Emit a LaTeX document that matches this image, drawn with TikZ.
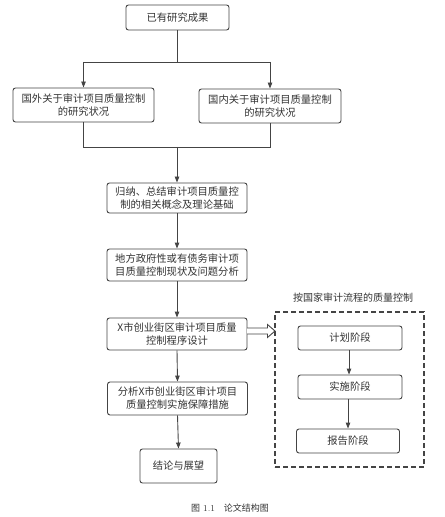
\documentclass[tikz,border=0pt]{standalone}
\usepackage{fontspec}
\newfontfamily\cjk{Noto Sans CJK SC}
\usetikzlibrary{arrows.meta}
\definecolor{lineC}{HTML}{444444}
\definecolor{txtC}{HTML}{333333}
\begin{document}
\begin{tikzpicture}[x=1bp,y=-1bp,
  box/.style={draw=lineC, line width=0.9bp, rounded corners=2.5bp, fill=white,
    inner sep=0pt, align=center, text=txtC,
    font=\cjk\fontsize{10.3bp}{13bp}\selectfont},
  conn/.style={draw=lineC, line width=0.9bp},
  arr/.style={conn, -{Triangle[length=6bp,width=4.5bp]}}
]
\useasboundingbox (0,0) rectangle (445,517);
\node[box, minimum width=103bp, minimum height=25bp] (top) at (177.5,17.5) {已有研究成果};
\node[box, minimum width=141bp, minimum height=34bp] (L) at (83.5,105) {国外关于审计项目质量控制\\的研究状况};
\node[box, minimum width=142bp, minimum height=34bp] (R) at (270,106) {国内关于审计项目质量控制\\的研究状况};
\node[box, minimum width=140bp, minimum height=30bp] (b3) at (177,198) {归纳、总结审计项目质量控\\制的相关概念及理论基础};
\node[box, minimum width=140bp, minimum height=32bp] (b4) at (177,265) {地方政府性或有债务审计项\\目质量控制现状及问题分析};
\node[box, minimum width=140bp, minimum height=32bp] (b5) at (177,334) {X市创业街区审计项目质量\\控制程序设计};
\node[box, minimum width=140bp, minimum height=33bp] (b6) at (177.5,398.5) {分析X市创业街区审计项目\\质量控制实施保障措施};
\node[box, minimum width=77bp, minimum height=34bp] (b7) at (178.5,466) {结论与展望};

\node[draw=lineC, line width=1.1bp, dash pattern=on 5bp off 3bp, inner sep=0pt,
  minimum width=149bp, minimum height=155bp] (grp) at (349.5,389.5) {};
\node[text=txtC, font=\cjk\fontsize{10bp}{12bp}\selectfont, inner sep=0pt] (glabel) at (353,298) {按国家审计流程的质量控制};
\node[box, minimum width=104bp, minimum height=24bp] (p1) at (350,338) {计划阶段};
\node[box, minimum width=104bp, minimum height=24bp] (p2) at (350,387) {实施阶段};
\node[box, minimum width=103bp, minimum height=24bp] (p3) at (348,441) {报告阶段};

% top split
\coordinate (s1) at (177.5,62);
\coordinate (sl) at (83.5,62);
\coordinate (sr) at (270,62);
\draw[conn] (top.south) -- (s1);
\draw[conn] (sl) -- (sr);
\draw[arr] (sl) -- (L.north);
\draw[arr] (sr) -- (R.north);
% merge
\coordinate (ml) at (83.5,147);
\coordinate (mr) at (270,147);
\coordinate (m1) at (177,147);
\draw[conn] (L.south) -- (ml) -- (mr) -- (R.south);
\draw[arr] (m1) -- (b3.north);
\draw[arr] (b3.south) -- (b4.north);
\draw[arr] (b4.south) -- (b5.north);
\draw[arr] (b5.south) -- (b6.north);
\draw[arr] (b6.south) -- (b7.north);
\draw[arr] (p1.south -| 349,0) -- (p2.north -| 349,0);
\draw[arr] (p2.south -| 348,0) -- (p3.north -| 348,0);
% hollow arrow
\coordinate (ha) at (247,331);
\draw[draw=lineC, line width=0.9bp, fill=white, line join=miter]
  (ha) ++(0,-3) -- ++(20.5,0) -- ++(0,-3.5) -- ++(7.5,6.5) -- ++(-7.5,6.5) -- ++(0,-3.5) -- ++(-20.5,0);

\node[text=txtC, font=\fontsize{9bp}{11bp}\selectfont, inner sep=0pt] (cap) at (230,508) {{\cjk 图} 1.1\quad{\cjk 论文结构图}};
\end{tikzpicture}
\end{document}
